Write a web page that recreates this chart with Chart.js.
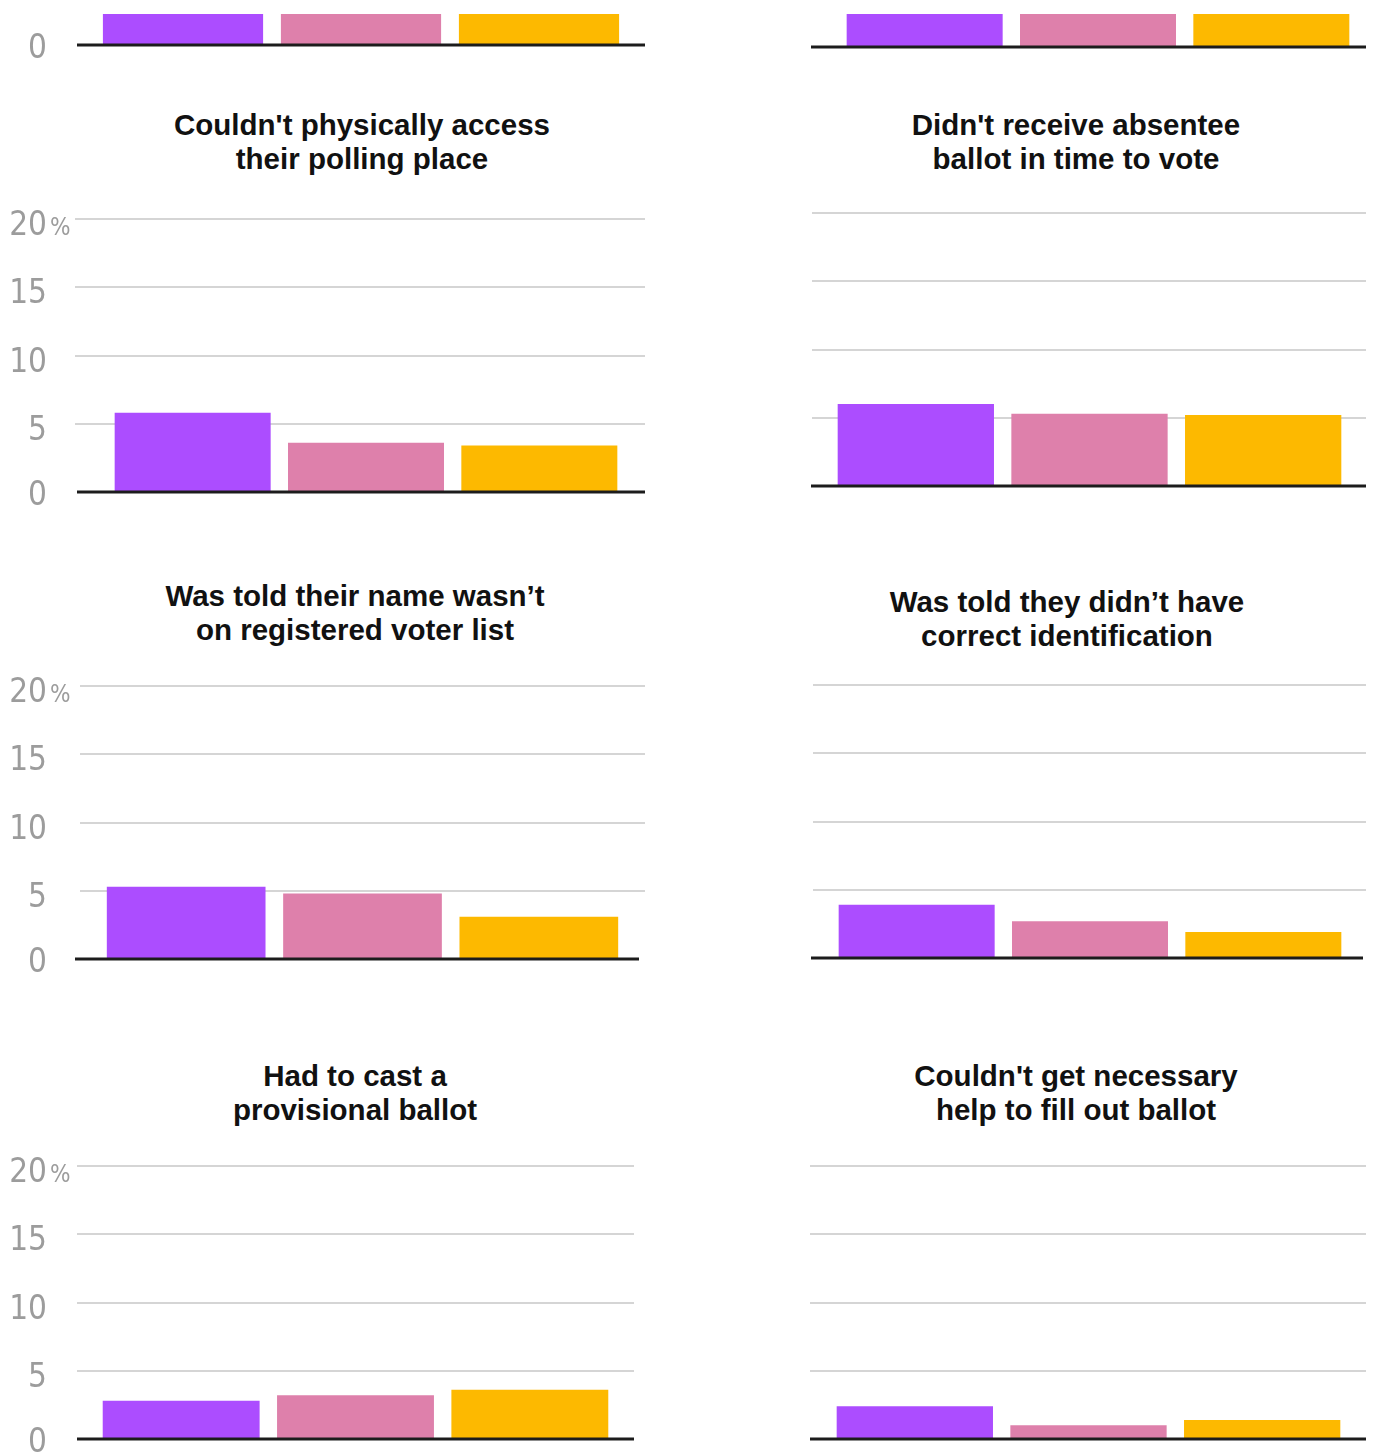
<!DOCTYPE html>
<html>
<head>
<meta charset="utf-8">
<script src="https://cdn.jsdelivr.net/npm/chart.js@4.4.0/dist/chart.umd.min.js"></script>
<style>
  body { margin: 0; background: #fff; }
  #page { position: relative; width: 1373px; height: 1452px; overflow: hidden; background: #fff; }
  canvas { position: absolute; }
  .clip { position: absolute; left: 0; top: 14px; width: 1373px; height: 50px; overflow: hidden; }
  .title {
    position: absolute; width: 640px; margin-left: -320px; text-align: center;
    font: 700 29.5px "Liberation Sans", Arial, sans-serif; line-height: 34px; color: #111;
  }
</style>
</head>
<body>
<div id="page"><div class="clip" id="clip"></div></div>
<script>
// groups compared in every panel (purple, pink, yellow)
const groups = ['Group 1', 'Group 2', 'Group 3'];
const yTicks = [0, 5, 10, 15, 20];

// share of respondents, percent
const prevLeft = [9, 9, 9];          // panel continuing above the page
const prevRight = [9, 9, 9];
const physicalAccess = [5.8, 3.6, 3.4];
const absenteeLate = [6.0, 5.3, 5.2];
const notOnList = [5.3, 4.8, 3.1];
const wrongId = [3.9, 2.7, 1.9];
const provisional = [2.8, 3.2, 3.6];
const noHelp = [2.4, 1.0, 1.4];

const barColors = ['#ac4dff', '#de80ab', '#fdb900'];
const tickFont = '"Liberation Sans Narrow", "DejaVu Sans Condensed", sans-serif';

const rules = {
  id: 'rules',
  beforeDatasetsDraw(chart, args, o) {
    const ctx = chart.ctx, y = chart.scales.y;
    ctx.save();
    ctx.strokeStyle = '#d5d5d5';
    ctx.lineWidth = 2;
    yTicks.forEach(t => {
      if (t === 0) return;
      const py = Math.round(y.getPixelForValue(t));
      ctx.beginPath();
      ctx.moveTo(o.grid[0], py);
      ctx.lineTo(o.grid[1], py);
      ctx.stroke();
    });
    ctx.restore();
  },
  afterDatasetsDraw(chart, args, o) {
    const ctx = chart.ctx, y = chart.scales.y;
    ctx.save();
    const py0 = y.getPixelForValue(0);
    ctx.strokeStyle = '#1c1c1c';
    ctx.lineWidth = 3;
    ctx.beginPath();
    ctx.moveTo(o.axis[0], py0);
    ctx.lineTo(o.axis[1], py0);
    ctx.stroke();
    if (o.labels) {
      ctx.fillStyle = '#9c9c9c';
      ctx.textBaseline = 'alphabetic';
      yTicks.forEach(t => {
        const py = y.getPixelForValue(t) + (t === 0 ? 13 : 16);
        ctx.font = '33px ' + tickFont;
        ctx.textAlign = 'right';
        ctx.fillText(String(t), 47, py);
        if (t === 20) {
          ctx.font = '24px ' + tickFont;
          ctx.textAlign = 'left';
          ctx.fillText('%', 50, py);
        }
      });
    }
    ctx.restore();
  }
};

// geometry: y0 = baseline on the page, area = bar region, grid/axis = rule extents
const panels = [
  { data: prevLeft, col: 0, y0: 45, area: [94, 628], grid: [77, 645], axis: [77, 645], labels: true, clipped: true },
  { data: prevRight, col: 1, y0: 47, area: [838, 1358], grid: [811, 1366], axis: [811, 1366], labels: false, clipped: true },
  { data: physicalAccess, col: 0, y0: 492, area: [106, 626], grid: [75, 645], axis: [77, 645], labels: true,
    title: ["Couldn't physically access", 'their polling place'], tx: 362, ty: 108 },
  { data: absenteeLate, col: 1, y0: 486, area: [829, 1350], grid: [812, 1366], axis: [811, 1366], labels: false,
    title: ["Didn't receive absentee", 'ballot in time to vote'], tx: 1076, ty: 108 },
  { data: notOnList, col: 0, y0: 959, area: [98, 627], grid: [80, 645], axis: [75, 639], labels: true,
    title: ['Was told their name wasn\u2019t', 'on registered voter list'], tx: 355, ty: 579 },
  { data: wrongId, col: 1, y0: 958, area: [830, 1350], grid: [813, 1366], axis: [811, 1363], labels: false,
    title: ['Was told they didn\u2019t have', 'correct identification'], tx: 1067, ty: 585 },
  { data: provisional, col: 0, y0: 1439, area: [94, 617], grid: [77, 634], axis: [77, 634], labels: true,
    title: ['Had to cast a', 'provisional ballot'], tx: 355, ty: 1059 },
  { data: noHelp, col: 1, y0: 1439, area: [828, 1349], grid: [810, 1366], axis: [810, 1366], labels: false,
    title: ["Couldn't get necessary", 'help to fill out ballot'], tx: 1076, ty: 1059 }
];

const pxPerPct = 13.67;
const pad = 30;
const page = document.getElementById('page');
const clip = document.getElementById('clip');

panels.forEach(p => {
  const left = p.col === 0 ? 0 : 690;
  const width = p.col === 0 ? 690 : 683;
  const h = Math.round(20 * pxPerPct);
  const top = p.y0 - h - pad;
  const canvas = document.createElement('canvas');
  canvas.width = width;
  canvas.height = h + 2 * pad;
  canvas.style.left = left + 'px';
  canvas.style.top = (p.clipped ? top - 14 : top) + 'px';
  (p.clipped ? clip : page).appendChild(canvas);

  if (p.title) {
    const t = document.createElement('div');
    t.className = 'title';
    t.style.left = p.tx + 'px';
    t.style.top = p.ty + 'px';
    t.innerHTML = p.title.join('<br>');
    page.appendChild(t);
  }

  new Chart(canvas.getContext('2d'), {
    type: 'bar',
    data: {
      labels: groups,
      datasets: [{ data: p.data, backgroundColor: barColors, borderWidth: 0 }]
    },
    options: {
      responsive: false,
      animation: false,
      devicePixelRatio: 1,
      layout: { padding: { left: p.area[0] - left, right: left + width - p.area[1], top: pad, bottom: pad } },
      categoryPercentage: 0.9,
      barPercentage: 1,
      scales: {
        x: { display: false },
        y: { display: false, min: 0, max: 20 }
      },
      plugins: {
        legend: { display: false },
        tooltip: { enabled: false },
        rules: { grid: p.grid.map(v => v - left), axis: p.axis.map(v => v - left), labels: p.labels }
      }
    },
    plugins: [rules]
  });
});
</script>
</body>
</html>
